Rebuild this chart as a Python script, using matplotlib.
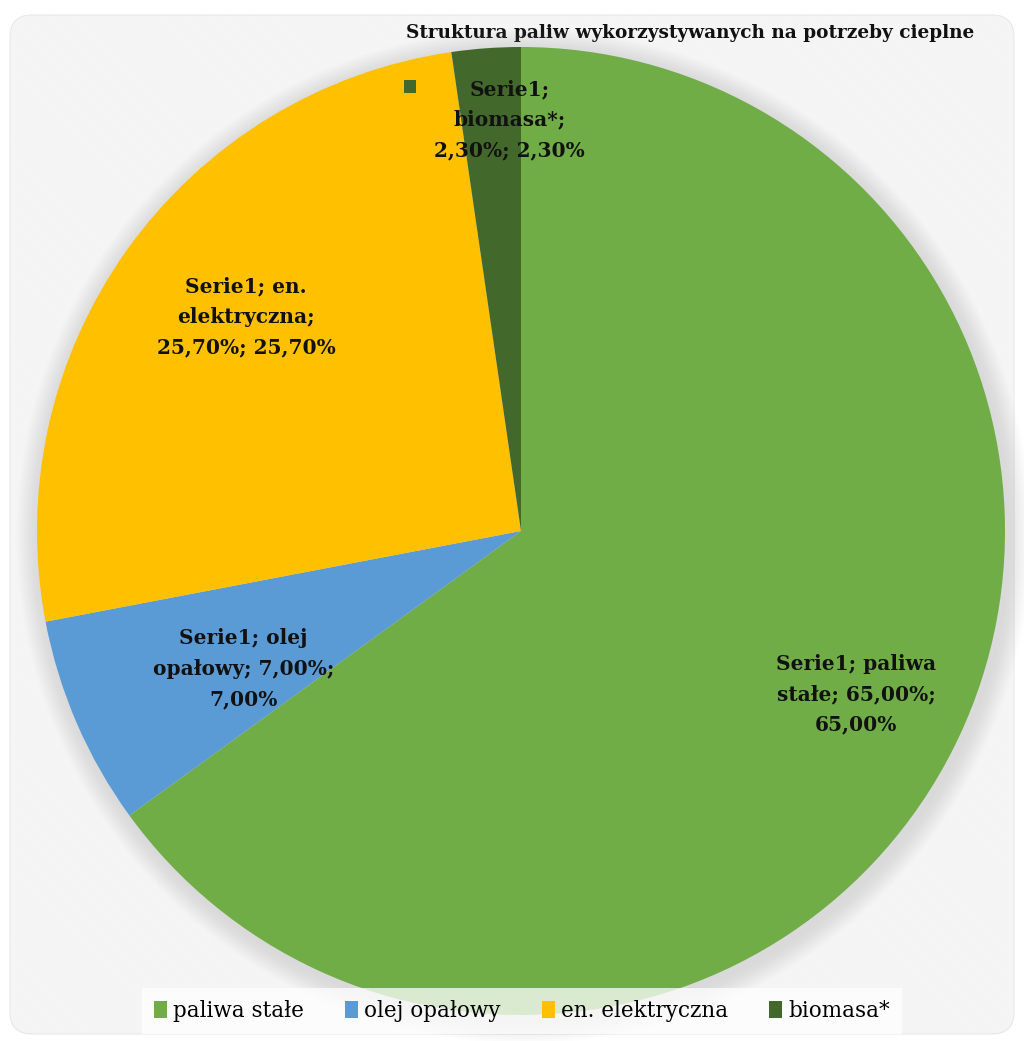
import textwrap
import matplotlib
matplotlib.use('Agg')
import matplotlib.pyplot as plt
from matplotlib.patches import FancyBboxPatch, Circle, Rectangle
import numpy as np

# data
series_name = 'Serie1'
categories = ['paliwa stałe', 'olej opałowy', 'en. elektryczna', 'biomasa*']
shares = [65.0, 7.0, 25.7, 2.3]
colors = ['#70AD47', '#5B9BD5', '#FFC000', '#43682B']
title = 'Struktura paliw wykorzystywanych na potrzeby cieplne'

# label placement (fraction of radius, angle nudge in degrees)
label_dist = [0.77, 0.64, 0.72, 0.85]
label_nudge = [1.0, 3.0, -2.5, -2.5]

W, H = 1024, 1041
fig = plt.figure(figsize=(W / 100, H / 100), dpi=100)
fig.patch.set_facecolor('white')

# background panel in pixel coordinates
bg = fig.add_axes([0, 0, 1, 1])
bg.set_xlim(0, W)
bg.set_ylim(H, 0)
bg.axis('off')
plt.rcParams['hatch.linewidth'] = 1.3
panel = FancyBboxPatch((10, 15), W - 20, H - 22, boxstyle='round,pad=0,rounding_size=22',
                       facecolor='white', edgecolor='#f4f4f4', hatch='\\' * 12,
                       linewidth=0)
bg.add_patch(panel)
bg.add_patch(FancyBboxPatch((10, 15), W - 20, H - 22, boxstyle='round,pad=0,rounding_size=22',
                            facecolor='none', edgecolor='#e8e8e8', linewidth=0.8))

bg.text(690, 33, title, ha='center', va='center', fontsize=13.3,
        fontweight='bold', family='DejaVu Serif', color='#111111')

# pie axes: centre (521, 531), radius 484 px
cx, cy, r = 521, 531, 484
ax = fig.add_axes([(cx - r) / W, (H - cy - r) / H, 2 * r / W, 2 * r / H])
ax.axis('off')

wedges, _ = ax.pie(shares, colors=colors, startangle=90, counterclock=False,
                   radius=1.0, wedgeprops=dict(linewidth=0))
for w in wedges:
    w.set_zorder(1)
ax.set_xlim(-1, 1)
ax.set_ylim(-1, 1)

# soft shadow
for i in range(16):
    ax.add_patch(Circle((0.006, -0.01), 1.0 + 0.003 * (16 - i), facecolor='#a0a0a0',
                        edgecolor='none', alpha=0.016, zorder=0, clip_on=False))

for w, cat, val, d, nudge in zip(wedges, categories, shares, label_dist, label_nudge):
    pct = f'{val:.2f}%'.replace('.', ',')
    txt = textwrap.fill(f'{series_name}; {cat}; {pct}; {pct}', width=15)
    ang = np.deg2rad((w.theta1 + w.theta2) / 2 + nudge)
    ax.text(d * np.cos(ang), d * np.sin(ang), txt, ha='center', va='center',
            fontsize=14.5, fontweight='bold', family='DejaVu Serif', color='#111111',
            linespacing=1.65, zorder=3)

# legend key inside the smallest label
ax.add_patch(Rectangle((-0.242, 0.905), 0.026, 0.026, facecolor=colors[3],
                       edgecolor='none', zorder=3))

handles = [Rectangle((0, 0), 1, 1, facecolor=c, edgecolor='none') for c in colors]
leg = fig.legend(handles, categories, loc='center', ncol=4,
                 bbox_to_anchor=(522 / W, 1 - 1011 / H), frameon=True,
                 prop={'family': 'DejaVu Serif', 'size': 15.5},
                 handlelength=0.6, handleheight=0.85, handletextpad=0.3,
                 columnspacing=1.9, borderpad=0.55, borderaxespad=0, fancybox=False)
leg.get_frame().set_facecolor('white')
leg.get_frame().set_alpha(0.75)
leg.get_frame().set_linewidth(0)

fig.savefig('out.png', dpi=100)
